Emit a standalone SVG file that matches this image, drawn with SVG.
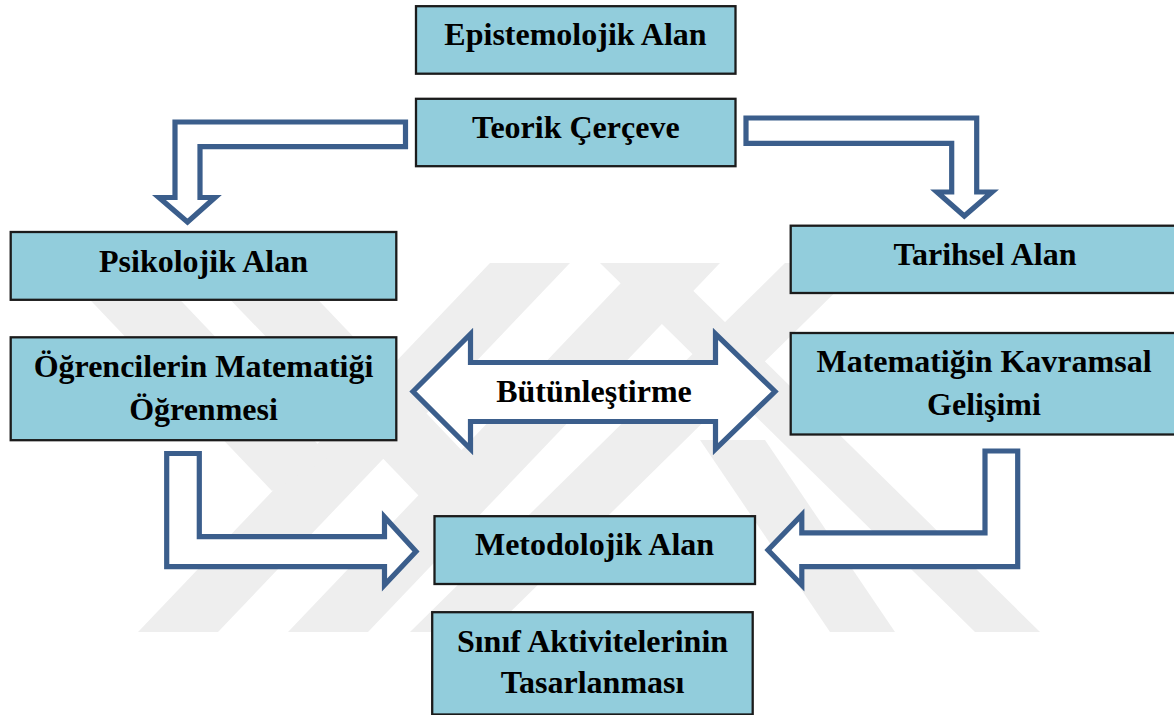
<svg xmlns="http://www.w3.org/2000/svg" width="1174" height="715" viewBox="0 0 1174 715">
<style>
.box{fill:#92CDDC;stroke:#1b1b1b;stroke-width:2.3}
.t{font-family:"Liberation Serif","Times New Roman",serif;font-weight:bold;font-size:32px;fill:#000;text-anchor:middle}
.arr{fill:#fff;stroke:#3B5E8C;stroke-width:5.2;stroke-linejoin:miter}
.wm{fill:#eeeeee}
</style>
<rect width="1174" height="715" fill="#fff"/>
<g id="watermark">
<polygon class="wm" points="490,263 570,263 218,632 138,632"/>
<polygon class="wm" points="640,263 720,263 368,632 288,632"/>
<polygon class="wm" points="785,263 865,263 490,632 410,632"/>
<polygon class="wm" points="55,263 145,263 330,457 272,491"/>
<polygon class="wm" points="195,263 283,263 470,459 419,496"/>
<polygon class="wm" points="600,263 665,263 1040,632 975,632"/>
<polygon class="wm" points="700,440 765,440 895,632 830,632"/>
</g>
<g id="connectors">
<polygon id="c-teorik-psiko" class="arr" points="405.5,122 175,122 175,197.5 159,197.5 187.5,222 215,197.5 200,197.5 200,146.7 405.5,146.7"/>
<polygon id="c-teorik-tarih" class="arr" points="746,118 976.7,118 976.7,192 992,192 964.3,216 937,192 951.7,192 951.7,143.3 746,143.3"/>
<polygon id="c-butun" class="arr" points="413,391.5 470.5,334 470.5,362.5 715.5,362.5 715.5,334 775,391.5 715.5,449 715.5,421.5 470.5,421.5 470.5,449"/>
<polygon id="c-ogr-metod" class="arr" points="166.7,453.5 199.3,453.5 199.3,536.7 384.5,536.7 384.5,517 416,551.5 384.5,585 384.5,566.7 166.7,566.7"/>
<polygon id="c-mat-metod" class="arr" points="985,451 1017.7,451 1017.7,566.7 801.8,566.7 801.8,585 768,550 801.8,515 801.8,532.8 985,532.8"/>
<text class="t" x="594" y="402">Bütünleştirme</text>
</g>
<g id="epistemolojik">
<rect class="box" x="416" y="6.2" width="319.5" height="67.5"/>
<text class="t" x="575.5" y="45">Epistemolojik Alan</text>
</g>
<g id="teorik">
<rect class="box" x="416" y="98.8" width="319.5" height="67.4"/>
<text class="t" x="575.8" y="138">Teorik Çerçeve</text>
</g>
<g id="psikolojik">
<rect class="box" x="10.7" y="232" width="385.6" height="67.8"/>
<text class="t" x="203.5" y="272">Psikolojik Alan</text>
</g>
<g id="ogrencilerin">
<rect class="box" x="10.7" y="337.3" width="385.6" height="102.9"/>
<text class="t" x="203.5" y="377">Öğrencilerin Matematiği</text>
<text class="t" x="203.5" y="420">Öğrenmesi</text>
</g>
<g id="tarihsel">
<rect class="box" x="790.7" y="225.7" width="392" height="67.3"/>
<text class="t" x="985" y="265">Tarihsel Alan</text>
</g>
<g id="matematigin">
<rect class="box" x="790.7" y="333" width="392" height="101.5"/>
<text class="t" x="984" y="372">Matematiğin Kavramsal</text>
<text class="t" x="984" y="415">Gelişimi</text>
</g>
<g id="metodolojik">
<rect class="box" x="434.5" y="516.2" width="320.5" height="67.8"/>
<text class="t" x="594.5" y="555">Metodolojik Alan</text>
</g>
<g id="sinif">
<rect class="box" x="432.2" y="612.2" width="320.5" height="102.3"/>
<text class="t" x="592.5" y="652">Sınıf Aktivitelerinin</text>
<text class="t" x="592.5" y="693">Tasarlanması</text>
</g>
</svg>
